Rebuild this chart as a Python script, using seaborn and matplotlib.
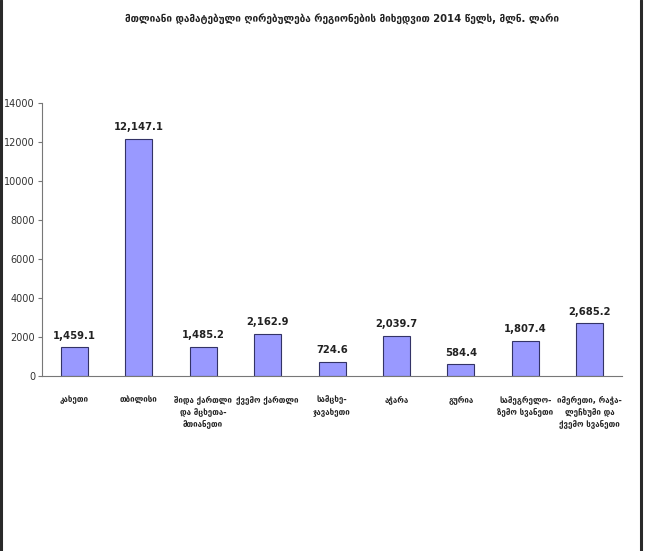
import matplotlib
matplotlib.use("Agg")
import matplotlib.pyplot as plt
from matplotlib.lines import Line2D
import seaborn as sns
import numpy as np

title = "მთლიანი დამატებული ღირებულება რეგიონების მიხედვით 2014 წელს, მლნ. ლარი"
regions = [
    "კახეთი",
    "თბილისი",
    "შიდა ქართლი\nდა მცხეთა-\nმთიანეთი",
    "ქვემო ქართლი",
    "სამცხე-\nჯავახეთი",
    "აჭარა",
    "გურია",
    "სამეგრელო-\nზემო სვანეთი",
    "იმერეთი, რაჭა-\nლეჩხუმი და\nქვემო სვანეთი",
]
values = [1459.1, 12147.1, 1485.2, 2162.9, 724.6, 2039.7, 584.4, 1807.4, 2685.2]
yticks = [0, 2000, 4000, 6000, 8000, 10000, 12000, 14000]

sns.set_style("white")
plt.rcParams["font.family"] = ["DejaVu Sans"]

fig = plt.figure(figsize=(6.46, 5.51), dpi=100)
ax = fig.add_axes([0.065, 0.318, 0.898, 0.495])

sns.barplot(x=list(range(len(values))), y=values, color="#9999ff",
            saturation=1, width=0.42, edgecolor="#333366", linewidth=0.8, ax=ax)

for i, v in enumerate(values):
    ax.text(i, v + 350, f"{v:,.1f}", ha="center", va="bottom",
            fontsize=7.2, color="#222222", fontweight="bold")

ax.set_xlim(-0.5, len(values) - 0.5)
ax.set_ylim(0, 14000)
ax.set_yticks(yticks)
ax.set_yticklabels([str(t) for t in yticks], fontsize=7, color="#333333")
ax.set_xticks(range(len(values)))
ax.set_xticklabels(regions, fontsize=5.8, color="#222222", linespacing=1.5,
                   fontweight="bold")
ax.set_xticks(np.arange(-0.5, len(values), 1), minor=True)
ax.tick_params(axis="x", which="major", length=0, pad=14)
ax.tick_params(axis="x", which="minor", length=4, color="#777777")
ax.tick_params(axis="y", length=3, color="#777777", left=True, pad=2)
for side in ["top", "right"]:
    ax.spines[side].set_visible(False)
for side in ["left", "bottom"]:
    ax.spines[side].set_color("#777777")
    ax.spines[side].set_linewidth(0.8)
ax.set_xlabel("")
ax.set_ylabel("")

fig.text(0.53, 0.965, title, ha="center", va="center", fontsize=7.2,
         fontweight="bold", color="#222222")

# dark frame lines on the left and right edges
fig.add_artist(Line2D([0.002, 0.002], [0, 1], color="#2a2a2a", linewidth=2.2,
                      transform=fig.transFigure))
fig.add_artist(Line2D([0.9915, 0.9915], [0, 1], color="#2a2a2a", linewidth=2.2,
                      transform=fig.transFigure))

fig.savefig("out.png", dpi=100)
